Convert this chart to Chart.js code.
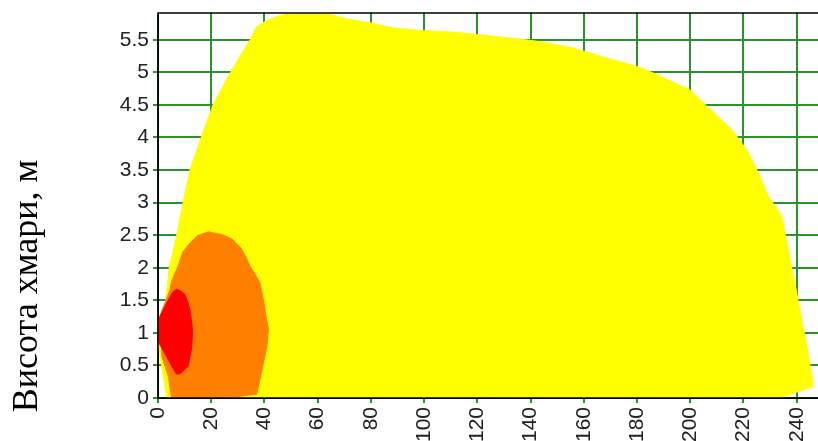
<!DOCTYPE html>
<html>
<head>
<meta charset="utf-8">
<script src="https://cdn.jsdelivr.net/npm/chart.js@4.4.1/dist/chart.umd.min.js"></script>
<style>
  html, body { margin: 0; padding: 0; background: #fff; }
  #wrap { width: 818px; height: 441px; position: relative; }
</style>
</head>
<body>
<div id="wrap"><canvas id="zoneChart"></canvas></div>
<script>
// contour zones of the cloud: [distance, height]
const yellowZone = [
  [3.3, 0], [0, 0.85], [0, 1.17], [1.4, 1.25], [3.0, 1.51], [4.2, 2.0], [7.0, 2.49],
  [9.5, 3.02], [12.0, 3.5], [16.4, 4.02], [20.7, 4.5], [27.4, 5.01], [34.6, 5.5],
  [37.1, 5.7], [40.2, 5.78], [45.8, 5.87], [53.4, 5.92], [62.1, 5.92], [69.6, 5.83],
  [79.7, 5.76], [88.4, 5.68], [99.7, 5.64], [109.7, 5.62], [119.8, 5.58], [136.0, 5.51],
  [143.6, 5.47], [156.1, 5.37], [168.6, 5.22], [179.9, 5.09], [184.9, 5.01], [199.9, 4.73],
  [206.2, 4.48], [215.6, 4.12], [221.2, 3.81], [225.0, 3.5], [229.4, 3.09], [234.4, 2.79],
  [236.3, 2.38], [238.7, 1.87], [239.8, 1.66], [241.3, 1.31], [243.8, 0.79], [246.3, 0.18],
  [234.4, 0.01], [3.3, 0]
];
const orangeZone = [
  [5.1, 0], [3.9, 0.33], [1.4, 0.64], [1.4, 0.85], [0.2, 1.2], [4.5, 1.66], [5.3, 1.81],
  [7.5, 2.02], [9.4, 2.25], [12.0, 2.38], [14.7, 2.49], [18.9, 2.55], [24.1, 2.51],
  [27.8, 2.44], [31.2, 2.30], [33.1, 2.16], [34.6, 2.02], [36.5, 1.90], [38.3, 1.77],
  [39.6, 1.51], [41.5, 1.05], [40.9, 0.79], [38.3, 0.28], [37.1, 0.06], [29.6, 0.02], [5.1, 0]
];
const redZone = [
  [5.6, 1.63], [7.0, 1.67], [8.6, 1.64], [10.1, 1.59], [11.1, 1.49], [12.0, 1.36],
  [13.0, 1.05], [12.7, 0.79], [11.4, 0.49], [8.3, 0.37], [6.8, 0.37], [4.5, 0.54],
  [2.0, 0.72], [0, 0.87], [0, 1.18], [1.4, 1.31], [3.9, 1.51], [5.6, 1.63]
];
const xMax = 248, xStep = 20;
const yMax = 5.91, yStep = 0.5;
const yTitle = 'Висота хмари, м';

const gridGreen = '#2a932a';

function zone(points, color) {
  return {
    type: 'line',
    data: points.map(p => ({ x: p[0], y: p[1] })),
    backgroundColor: color,
    borderColor: color,
    borderWidth: 1,
    fill: 'shape',
    tension: 0,
    pointRadius: 0,
    pointHoverRadius: 0
  };
}

// keep only the regular steps (no extra tick at the max)
function stepTicks(step) {
  return scale => {
    scale.ticks = scale.ticks.filter(t => Math.abs(t.value / step - Math.round(t.value / step)) < 1e-6);
  };
}

// frame lines on top of the fills, plus the side title
const framePlugin = {
  id: 'frame',
  afterDatasetsDraw(chart) {
    const { ctx, chartArea: a } = chart;
    ctx.save();
    ctx.strokeStyle = '#000';
    ctx.lineWidth = 1.5;
    ctx.beginPath();
    ctx.moveTo(a.right, a.top);
    ctx.lineTo(a.left, a.top);
    ctx.lineTo(a.left, a.bottom);
    ctx.lineTo(a.right, a.bottom);
    ctx.stroke();
    ctx.restore();
  },
  afterDraw(chart) {
    const ctx = chart.ctx;
    ctx.save();
    ctx.translate(37, 286);
    ctx.rotate(-Math.PI / 2);
    ctx.fillStyle = '#000';
    ctx.font = '36px "Liberation Serif", "Times New Roman", serif';
    ctx.textAlign = 'center';
    ctx.textBaseline = 'alphabetic';
    ctx.fillText(yTitle, 0, 0);
    ctx.restore();
  }
};

const tickFont = { family: '"Liberation Sans", Arial, sans-serif', size: 21 };

new Chart(document.getElementById('zoneChart'), {
  type: 'scatter',
  data: {
    datasets: [
      zone(redZone, '#ff0000'),
      zone(orangeZone, '#ff8000'),
      zone(yellowZone, '#ffff00')
    ]
  },
  options: {
    responsive: true,
    maintainAspectRatio: false,
    animation: false,
    events: [],
    layout: { padding: { top: 13, right: 0, left: 0, bottom: 0 } },
    plugins: { legend: { display: false }, tooltip: { enabled: false } },
    scales: {
      x: {
        type: 'linear',
        min: 0,
        max: xMax,
        border: { color: '#000', width: 1 },
        grid: { color: gridGreen, lineWidth: 2, tickLength: 5, tickColor: gridGreen },
        ticks: {
          stepSize: xStep,
          includeBounds: false,
          autoSkip: false,
          minRotation: 90,
          maxRotation: 90,
          padding: 4,
          color: '#222',
          font: tickFont
        },
        afterBuildTicks: stepTicks(xStep),
        afterFit(scale) {
          scale.height = 43;
          scale.paddingLeft = 0;
          scale.paddingRight = 0;
        }
      },
      y: {
        type: 'linear',
        min: 0,
        max: yMax,
        border: { color: '#000', width: 1 },
        grid: { color: gridGreen, lineWidth: 2, tickLength: 5, tickColor: gridGreen },
        ticks: {
          stepSize: yStep,
          includeBounds: false,
          autoSkip: false,
          padding: 4,
          color: '#222',
          font: tickFont,
          callback: v => String(+v.toFixed(1))
        },
        afterBuildTicks: stepTicks(yStep),
        afterFit(scale) {
          scale.width = 158;
          scale.paddingTop = 0;
          scale.paddingBottom = 0;
        }
      }
    }
  },
  plugins: [framePlugin]
});
</script>
</body>
</html>
